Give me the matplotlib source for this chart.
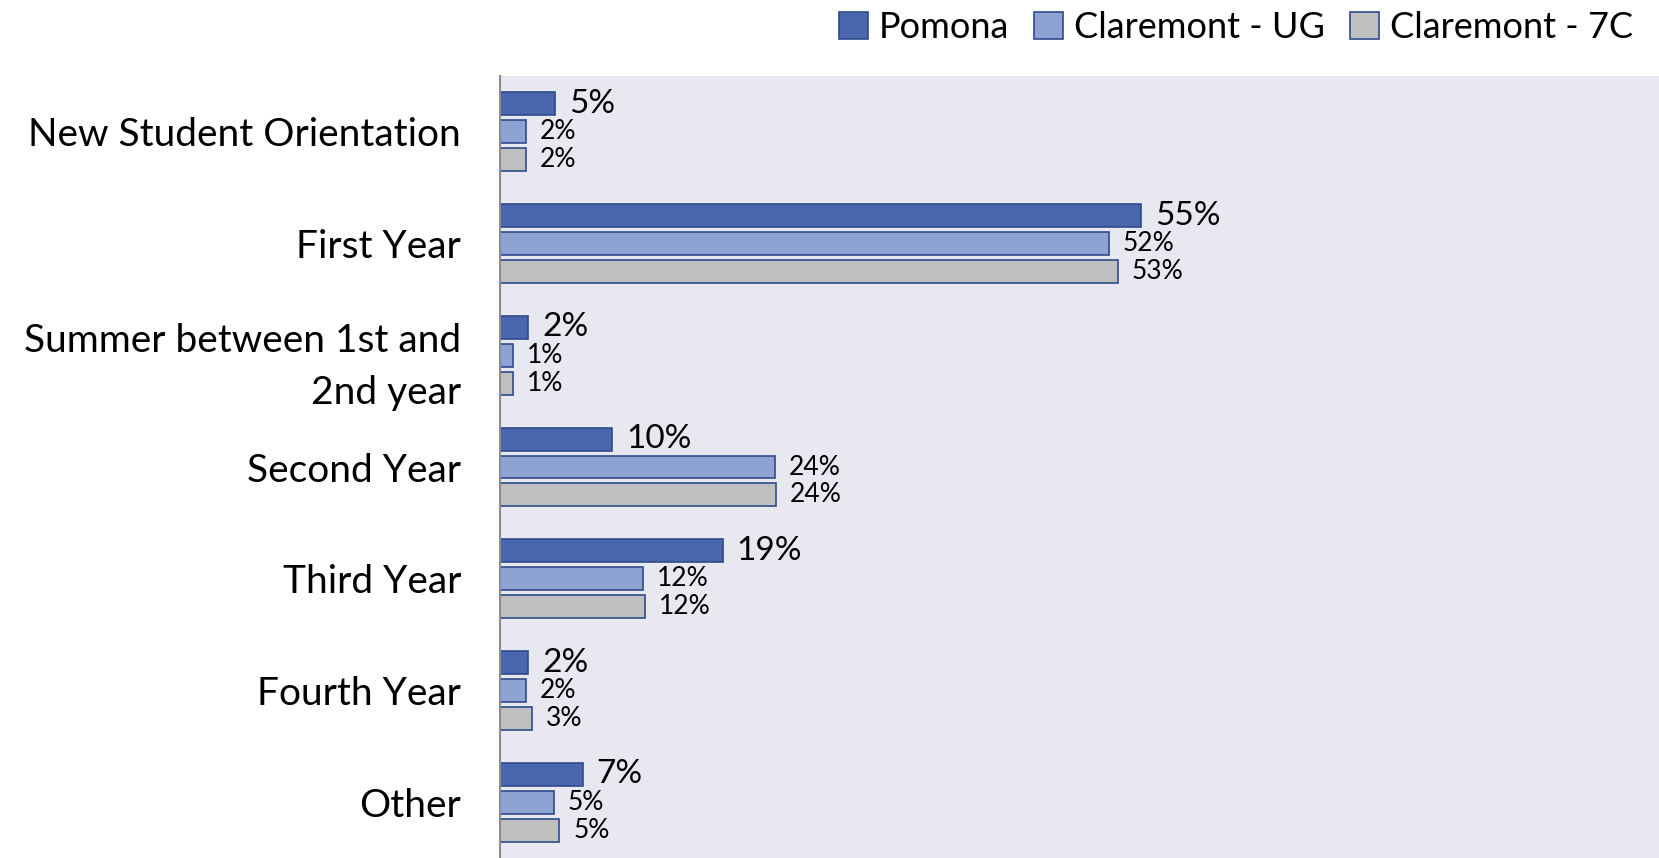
import matplotlib
matplotlib.use("Agg")
import matplotlib.pyplot as plt
import numpy as np

plt.rcParams['font.family'] = ['Lato', 'DejaVu Sans']

categories = ['New Student Orientation', 'First Year', 'Summer between 1st and\n2nd year',
              'Second Year', 'Third Year', 'Fourth Year', 'Other']
series = ['Pomona', 'Claremont - UG', 'Claremont - 7C']
pomona = [4.7, 55.0, 2.4, 9.6, 19.1, 2.4, 7.1]
claremont_ug = [2.2, 52.2, 1.1, 23.6, 12.3, 2.2, 4.6]
claremont_7c = [2.2, 53.0, 1.1, 23.7, 12.4, 2.7, 5.1]

colors = ['#4A66AC', '#8FA3D3', '#C0C0C0']
edge = '#2F4B8C'

fig = plt.figure(figsize=(16.59, 8.58), dpi=100)
ax = fig.add_axes([0.3014, 0.0, 0.6986, 0.9114])
ax.set_facecolor('#E8E8F1')

y = np.arange(len(categories))
pitch = 0.25
height = 0.205
data = [pomona, claremont_ug, claremont_7c]
for i, (vals, name) in enumerate(zip(data, series)):
    rects = ax.barh(y + (i - 1) * pitch, vals, height, color=colors[i],
                    edgecolor=edge, linewidth=1.2, label=name)
    fs = 24 if i == 0 else 19
    for r, v in zip(rects, vals):
        ax.annotate('{:.0f}%'.format(v), xy=(r.get_width(), r.get_y() + r.get_height() / 2),
                    xytext=(10, 0), textcoords='offset points',
                    ha='left', va='center', fontsize=fs)

ax.set_ylim(len(categories) - 0.5, -0.5)
ax.set_xlim(0, 99.4)
ax.set_yticks(y)
ax.set_yticklabels(categories, fontsize=28, linespacing=1.55)
ax.set_xticks([])
ax.tick_params(axis='y', length=0, pad=28)
for s in ['top', 'right', 'bottom']:
    ax.spines[s].set_visible(False)
ax.spines['left'].set_color('#8C8C8C')
ax.spines['left'].set_linewidth(1.5)

fig.legend(loc='upper right', bbox_to_anchor=(1.004, 1.025), ncol=3, fontsize=26,
           frameon=False, handlelength=0.8, handleheight=0.8, handletextpad=0.3,
           columnspacing=0.7)

fig.savefig('out.png', dpi=100)
